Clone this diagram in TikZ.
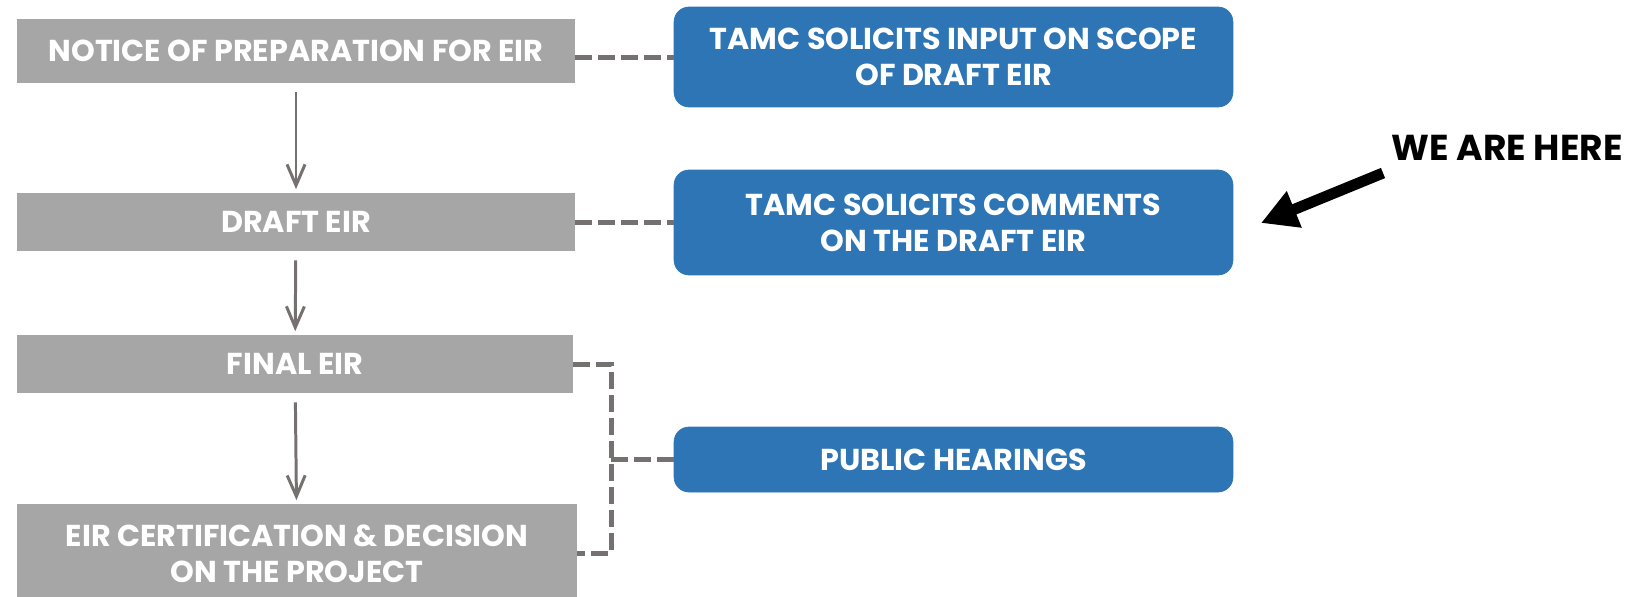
\documentclass[tikz,border=0pt]{standalone}
\usepackage{fontspec}
\setmainfont{Poppins}
\usepackage{tikz}
\tikzset{>=latex}
\usetikzlibrary{arrows.meta,calc,positioning}
\definecolor{boxgray}{HTML}{A6A6A6}
\definecolor{stepblue}{HTML}{2E75B6}
\definecolor{dashgray}{HTML}{767171}
\tikzset{
  stage/.style={fill=boxgray, text=white, align=center, inner sep=0pt,
    font=\bfseries\fontsize{17.2}{20.6}\selectfont},
  action/.style={fill=stepblue, draw=stepblue, text=white, align=center, inner sep=0pt,
    rounded corners=0.3cm, minimum width=11.18cm,
    font=\bfseries\fontsize{17.2}{20.6}\selectfont},
  flow/.style={dashgray, line width=1.7pt, -{Straight Barb[length=0.42cm,width=0.36cm]},
    shorten <=0.18cm, shorten >=0.07cm},
  link/.style={dashgray, line width=0.1cm, dash pattern=on 0.34cm off 0.12cm}
}

\begin{document}
\begin{tikzpicture}[x=0.02cm, y=-0.02cm]
    \useasboundingbox (0,0) rectangle (1632,596);

    \node[stage, minimum width=11.16cm, minimum height=1.28cm] (notice) at (296,51) {NOTICE OF PREPARATION FOR EIR};
    \node[stage, minimum width=11.16cm, minimum height=1.16cm] (draft) at (296,222) {DRAFT EIR};
    \node[stage, minimum width=11.12cm, minimum height=1.16cm] (final) at (295,364) {FINAL EIR};
    \node[stage, minimum width=11.2cm, minimum height=1.98cm] (cert) at (297,553.5) {EIR CERTIFICATION \& DECISION\\ON THE PROJECT};

    \node[action, minimum height=2cm] (scope) at (953.5,57) {TAMC SOLICITS INPUT ON SCOPE\\OF DRAFT EIR};
    \node[action, minimum height=2.1cm] (comments) at (953.5,222.5) {TAMC SOLICITS COMMENTS\\ON THE DRAFT EIR};
    \node[action, minimum height=1.3cm] (hearings) at (953.5,459.5) {PUBLIC HEARINGS};

    \draw[flow] (notice) -- (draft);
    \draw[flow] (draft) -- (final);
    \draw[flow] (final) -- (cert);

    \draw[link] (scope.west -| notice.east) -- (scope.west);
    \draw[link] (comments.west -| draft.east) -- (comments.west);
    \coordinate (split) at (611,459.5);
    \draw[link] (final.east) -| (split) |- (cert.east);
    \draw[link] (split) -- (hearings.west);

    \node[font=\bfseries\fontsize{20.5}{24}\selectfont] (here) at (1507,148) {WE ARE HERE};
    \coordinate (tail) at (1383,173);
    \coordinate (tip) at (1261,223);
    \draw[line width=0.22cm, -{Triangle[length=0.72cm,width=0.74cm]}] (tail) -- (tip);
\end{tikzpicture}
\end{document}
